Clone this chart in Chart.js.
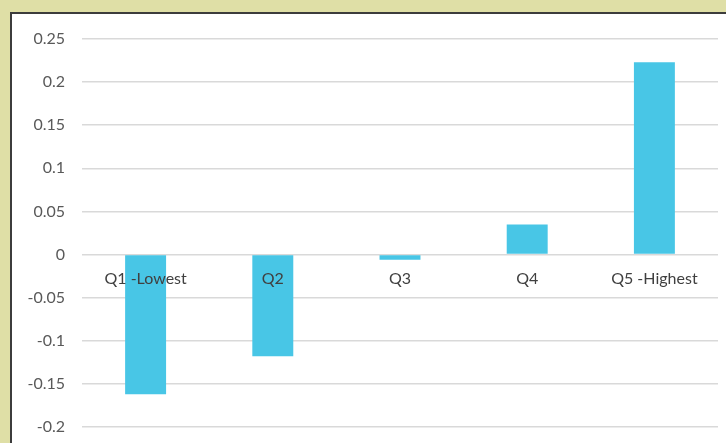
<!DOCTYPE html>
<html>
<head>
<meta charset="utf-8">
<script src="https://cdn.jsdelivr.net/npm/chart.js@4.4.0/dist/chart.umd.min.js"></script>
<style>
  html, body { margin: 0; padding: 0; }
  body { width: 726px; height: 443px; background: #dfdfa6; position: relative; overflow: hidden; }
  #frame { position: absolute; left: 10px; top: 12px; width: 730px; height: 440px; background: #ffffff;
           border-left: 2px solid #3c3c3c; border-top: 2px solid #3c3c3c; }
  #wrap { position: absolute; left: 0; top: 0; width: 726px; height: 443px; }
</style>
</head>
<body>
<div id="frame"></div>
<div id="wrap"><canvas id="bar-chart" width="726" height="443"></canvas></div>
<script>
// quintile categories and change values
var quintiles = ["Q1 -Lowest", "Q2", "Q3", "Q4", "Q5 -Highest"];
var changes = [-0.162, -0.118, -0.006, 0.035, 0.223];
var yMin = -0.2;
var yMax = 0.25;
var yStep = 0.05;

var labelFont = { family: "Lato, 'Open Sans', sans-serif", size: 16 };

new Chart(document.getElementById("bar-chart"), {
	type: 'bar',
	data: {
		labels: quintiles,
		datasets: [{
			data: changes,
			backgroundColor: "#48c6e6",
			borderWidth: 0,
			categoryPercentage: 1,
			barPercentage: 0.322
		}]
	},
	options: {
		responsive: false,
		animation: false,
		layout: { padding: { top: 39, right: 8, bottom: 16, left: 0 } },
		plugins: {
			legend: { display: false },
			tooltip: { enabled: false }
		},
		scales: {
			x: {
				position: { y: 0 },
				afterFit: function(scale) {
					scale.height = 0;
					scale.paddingTop = 0;
					scale.paddingBottom = 0;
				},
				grid: { display: false, drawTicks: false },
				border: { display: false },
				ticks: { z: 1, color: "#404040", font: labelFont, padding: 15, maxRotation: 0, autoSkip: false }
			},
			y: {
				min: yMin,
				max: yMax,
				afterFit: function(scale) {
					scale.width = 82;
					scale.paddingTop = 0;
					scale.paddingBottom = 0;
				},
				grid: { color: "#d9d9d9", lineWidth: 1.5, drawTicks: false },
				border: { display: false },
				ticks: {
					stepSize: yStep,
					color: "#595959",
					font: labelFont,
					padding: 17,
					callback: function(v) { return String(parseFloat(v.toFixed(2))); }
				}
			}
		}
	}
});
</script>
</body>
</html>
